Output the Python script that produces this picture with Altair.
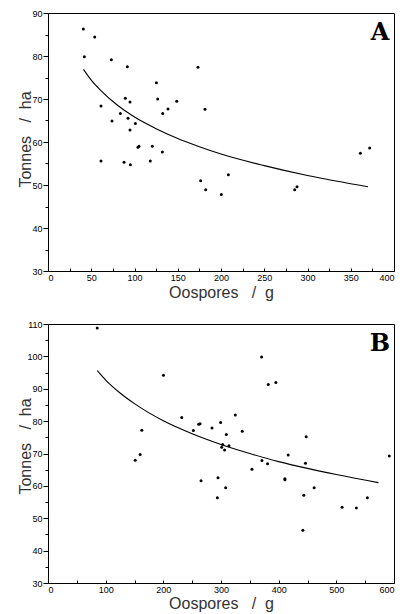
import altair as alt
import pandas as pd

# Panel A data
a_x = [40.9, 42, 54, 61.3, 61.3, 73.2, 74, 83.6, 87.9, 89.4, 91.7, 92.5, 94.8, 94.8, 95.2,
       101, 104, 105.2, 118.3, 120.6, 125.3, 126.8, 132.2, 132.6, 138.7, 148.8, 173.4, 176.5,
       181.5, 182.3, 200.4, 208.5, 285.2, 287.9, 361.1, 371.9]
a_y = [86.3, 79.8, 84.4, 68.4, 55.6, 79.1, 64.9, 66.6, 55.3, 70.2, 77.5, 65.5, 69.3, 62.8, 54.7,
       64.3, 58.8, 59.0, 55.6, 59.0, 73.8, 70.0, 57.7, 66.6, 67.7, 69.5, 77.4, 51.0,
       67.6, 48.9, 47.8, 52.4, 48.9, 49.6, 57.4, 58.6]
a_fit_x = [41, 50, 60, 80, 100, 125, 150, 175, 200, 250, 300, 370]
a_fit_y = [76.9, 74.4, 72.2, 68.6, 65.8, 63.1, 60.8, 58.9, 57.2, 54.5, 52.2, 49.6]

# Panel B data
b_x = [85.4, 151.2, 159.8, 162.7, 200.2, 231.9, 252.1, 261.3, 263.7, 265.4, 284.4, 294.8, 293.7,
       299.4, 301.2, 302.9, 306.3, 308.1, 309.2, 313.8, 324.8, 336.9, 353.7, 370.4, 371, 380.8,
       381.9, 395.2, 410.8, 410.8, 416.5, 443.6, 441.9, 446.5, 447.7, 461.5, 510, 534.8, 553.8, 591.9]
b_y = [108.8, 67.9, 69.7, 77.2, 94.2, 81.1, 77.1, 79.0, 79.2, 61.6, 77.9, 62.5, 56.3,
       79.6, 71.9, 72.8, 71.1, 59.4, 75.9, 72.4, 81.9, 76.9, 65.1, 99.8, 67.8, 66.8,
       91.3, 91.9, 62.2, 61.9, 69.5, 57.1, 46.3, 67.0, 75.2, 59.4, 53.4, 53.2, 56.3, 69.2]
b_fit_x = [85.4, 100, 125, 150, 200, 250, 300, 350, 400, 450, 500, 573]
b_fit_y = [95.6, 92.7, 88.7, 85.4, 80.1, 76.1, 72.8, 70.0, 67.5, 65.4, 63.5, 61.0]

X_TITLE = "Oospores\u00a0\u00a0\u00a0/\u00a0\u00a0g"
Y_TITLE = "Tonnes\u00a0\u00a0\u00a0/\u00a0\u00a0ha"


def panel(px, py, fx, fy, xmax, xstep, ymin, ymax, label, W, H, xty, yty):
    pts = pd.DataFrame({"x": px, "y": py})
    fit = pd.DataFrame({"x": fx, "y": fy})
    xs = alt.Scale(domain=[0, xmax], nice=False, zero=False)
    ys = alt.Scale(domain=[ymin, ymax], nice=False, zero=False)
    major_x = list(range(0, xmax + 1, xstep))
    minor_x = list(range(0, xmax + 1, xstep // 2))
    major_y = list(range(ymin, ymax + 1, 10))
    minor_y = list(range(ymin, ymax + 1, 5))

    points = alt.Chart(pts).mark_circle(size=9, color="black", opacity=1).encode(
        x=alt.X("x:Q", scale=xs, axis=alt.Axis(values=major_x, format="d", title=X_TITLE,
                                               ticks=False, labelPadding=2,
                                               titleY=xty, titleBaseline="top",
                                               titleAlign="center")),
        y=alt.Y("y:Q", scale=ys, axis=alt.Axis(values=major_y, format="d", title=Y_TITLE,
                                               tickSize=5, labelPadding=1,
                                               titleX=-15, titleY=yty, titleAlign="center")),
    )
    curve = alt.Chart(fit).mark_line(color="black", strokeWidth=1.1, interpolate="monotone").encode(
        x=alt.X("x:Q", scale=xs, axis=alt.Axis(orient="top", offset=-H, values=minor_x,
                                               tickSize=3, labels=False, domain=False, title=None)),
        y=alt.Y("y:Q", scale=ys, axis=alt.Axis(orient="left", values=minor_y, tickSize=3,
                                               labels=False, domain=False, title=None)),
    )
    txt = alt.Chart(pd.DataFrame({"t": [label]})).mark_text(
        font="DejaVu Serif", fontWeight="bold", fontSize=24, align="center",
        baseline="alphabetic", color="black"
    ).encode(text="t:N", x=alt.value(W - 14), y=alt.value(27))

    return alt.layer(points, curve, txt).resolve_axis(x="independent", y="independent").properties(
        width=W, height=H)


A = panel(a_x, a_y, a_fit_x, a_fit_y, 400, 50, 30, 90, "A", 346, 258, 13, 126)
B = panel(b_x, b_y, b_fit_x, b_fit_y, 600, 100, 30, 110, "B", 346, 259, 12, 122)

chart = alt.vconcat(A, B, spacing=18).properties(
    padding={"left": 8, "top": 0, "right": 5, "bottom": 2}
).configure_view(stroke="black", strokeWidth=1).configure_axis(
    labelFont="Liberation Sans", labelFontSize=9, labelColor="black",
    titleFont="Liberation Sans", titleFontSize=16, titleFontWeight="normal", titleColor="#333",
    domainColor="black", tickColor="black", grid=False,
)

chart.save("out.html", embed_options={"renderer": "svg", "actions": False})
